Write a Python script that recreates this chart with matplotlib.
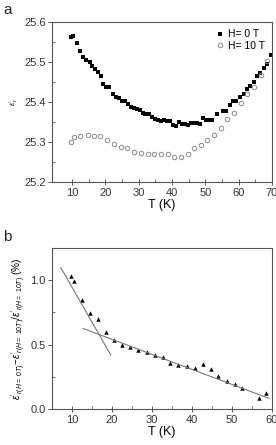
import matplotlib
matplotlib.use("Agg")
import matplotlib.pyplot as plt

plt.rcParams['font.family'] = ['Liberation Sans', 'DejaVu Sans']
plt.rcParams['mathtext.fontset'] = 'custom'
plt.rcParams['mathtext.rm'] = 'Liberation Sans'
plt.rcParams['mathtext.it'] = 'Liberation Sans:italic'

# panel a: dielectric constant vs temperature
T_h0 = [9.8, 10.3, 11.5, 12.4, 13.4, 14.3, 15.3, 16.1, 17.0, 17.8, 18.6, 19.4, 20.3, 21.2,
        22.3, 23.1, 24.1, 25.0, 25.9, 26.8, 27.7, 28.5, 29.4, 30.3, 31.2, 32.0, 33.0, 33.9,
        34.8, 35.7, 36.6, 37.5, 38.4, 39.3, 40.3, 41.2, 42.1, 43.0, 43.9, 44.8, 45.7, 46.6,
        47.5, 48.4, 49.4, 50.3, 51.2, 52.1, 53.6, 55.3, 56.2, 57.5, 58.3, 59.3, 60.5, 61.5,
        62.5, 63.4, 64.5, 65.5, 66.5, 67.5, 68.5, 69.6]
eps_h0 = [25.563, 25.565, 25.548, 25.528, 25.513, 25.506, 25.500, 25.490, 25.483, 25.475,
          25.464, 25.444, 25.438, 25.437, 25.420, 25.413, 25.410, 25.403, 25.402, 25.395,
          25.387, 25.385, 25.382, 25.380, 25.372, 25.371, 25.371, 25.363, 25.358, 25.355,
          25.353, 25.354, 25.353, 25.352, 25.342, 25.339, 25.349, 25.345, 25.346, 25.343,
          25.348, 25.347, 25.348, 25.346, 25.359, 25.354, 25.356, 25.356, 25.369, 25.378,
          25.378, 25.393, 25.402, 25.402, 25.412, 25.420, 25.432, 25.440, 25.450, 25.465,
          25.473, 25.485, 25.496, 25.517]

T_h10 = [9.8, 10.5, 12.5, 14.7, 16.7, 18.5, 20.5, 22.7, 24.7, 26.5, 28.7, 30.7, 32.7, 34.7,
         36.7, 38.7, 40.6, 42.6, 44.7, 46.6, 48.6, 50.6, 52.6, 54.6, 56.6, 58.6, 60.6, 62.6,
         64.7, 66.6, 68.6]
eps_h10 = [25.300, 25.312, 25.314, 25.318, 25.314, 25.314, 25.305, 25.296, 25.288, 25.285,
           25.276, 25.273, 25.271, 25.271, 25.269, 25.269, 25.262, 25.262, 25.269, 25.285,
           25.292, 25.305, 25.317, 25.334, 25.357, 25.372, 25.398, 25.419, 25.438, 25.467,
           25.502]

# panel b: relative magnetodielectric change (%)
T_mc = [9.8, 10.5, 12.5, 14.5, 16.6, 18.6, 20.6, 22.6, 24.6, 26.6, 28.7, 30.7, 32.7, 34.6,
        36.6, 38.7, 40.7, 42.7, 44.7, 46.6, 48.7, 50.8, 52.6, 56.7, 58.6]
mc = [1.034, 0.997, 0.850, 0.747, 0.698, 0.600, 0.535, 0.496, 0.483, 0.457, 0.439, 0.421,
      0.403, 0.359, 0.341, 0.336, 0.320, 0.346, 0.310, 0.253, 0.217, 0.191, 0.160, 0.088,
      0.121]

# guide lines (low-T and high-T linear regimes)
fit1_T = [7.2, 19.7]
fit1_mc = [1.098, 0.419]
fit2_T = [12.8, 59.2]
fit2_mc = [0.625, 0.083]

fig = plt.figure(figsize=(2.76, 4.45), dpi=100)
ax1 = fig.add_axes([52/276, 1 - 182/445, 220/276, 160/445])
ax2 = fig.add_axes([52/276, 1 - 409/445, 220/276, 161/445])

ax1.plot(T_h0, eps_h0, 's', color='black', ms=2.7, mew=0, label='H= 0 T')
ax1.plot(T_h10, eps_h10, 'o', mfc='none', mec='#8a8a8a', ms=3.2, mew=0.7, label='H= 10 T')
ax1.set_xlim(4, 70)
ax1.set_ylim(25.2, 25.6)
ax1.set_xticks([10, 20, 30, 40, 50, 60, 70])
ax1.set_xticks([15, 25, 35, 45, 55, 65], minor=True)
ax1.set_yticks([25.2, 25.3, 25.4, 25.5, 25.6])
ax1.set_yticks([25.25, 25.35, 25.45, 25.55], minor=True)
ax1.set_xlabel('T (K)', fontsize=9, labelpad=1)
ax1.set_ylabel(r"$\varepsilon'_r$", fontsize=5.5, labelpad=3)
ax1.legend(loc='upper right', frameon=False, fontsize=7.5, handletextpad=0.2,
           handlelength=1.0, borderaxespad=0.3, labelspacing=0.15)

ax2.plot(T_mc, mc, '^', color='black', ms=3.2, mew=0)
ax2.plot(fit1_T, fit1_mc, color='#777777', lw=0.8)
ax2.plot(fit2_T, fit2_mc, color='#777777', lw=0.8)
ax2.set_xlim(5, 60)
ax2.set_ylim(0, 1.25)
ax2.set_xticks([10, 20, 30, 40, 50, 60])
ax2.set_xticks([15, 25, 35, 45, 55], minor=True)
ax2.set_yticks([0.0, 0.5, 1.0])
ax2.set_yticks([0.25, 0.75], minor=True)
ax2.set_yticklabels(['0.0', '0.5', '1.0'])
ax2.set_xlabel('T (K)', fontsize=9, labelpad=1)
ax2.set_ylabel(r"$\varepsilon'_{r(H=\ 0T)}$" + "\u2212" +
               r"$\varepsilon'_{r(H=\ 10T)}/\varepsilon'_{r(H=\ 10T)}$" + " (%)",
               fontsize=7.2, labelpad=2)

for ax in (ax1, ax2):
    for s in ax.spines.values():
        s.set_color('#555555')
        s.set_linewidth(0.8)
    ax.tick_params(which='major', direction='out', length=3, width=0.7, colors='#555555',
                   labelcolor='#333333', labelsize=8, pad=1.5)
    ax.tick_params(axis='x', which='major', direction='inout', length=5)
    ax.tick_params(which='minor', direction='in', length=2, width=0.6, colors='#555555')

fig.text(3/276, 1 - 14/445, 'a', fontsize=11, color='#222222')
fig.text(3/276, 1 - 241/445, 'b', fontsize=11, color='#222222')

fig.savefig('out.png', dpi=100)
